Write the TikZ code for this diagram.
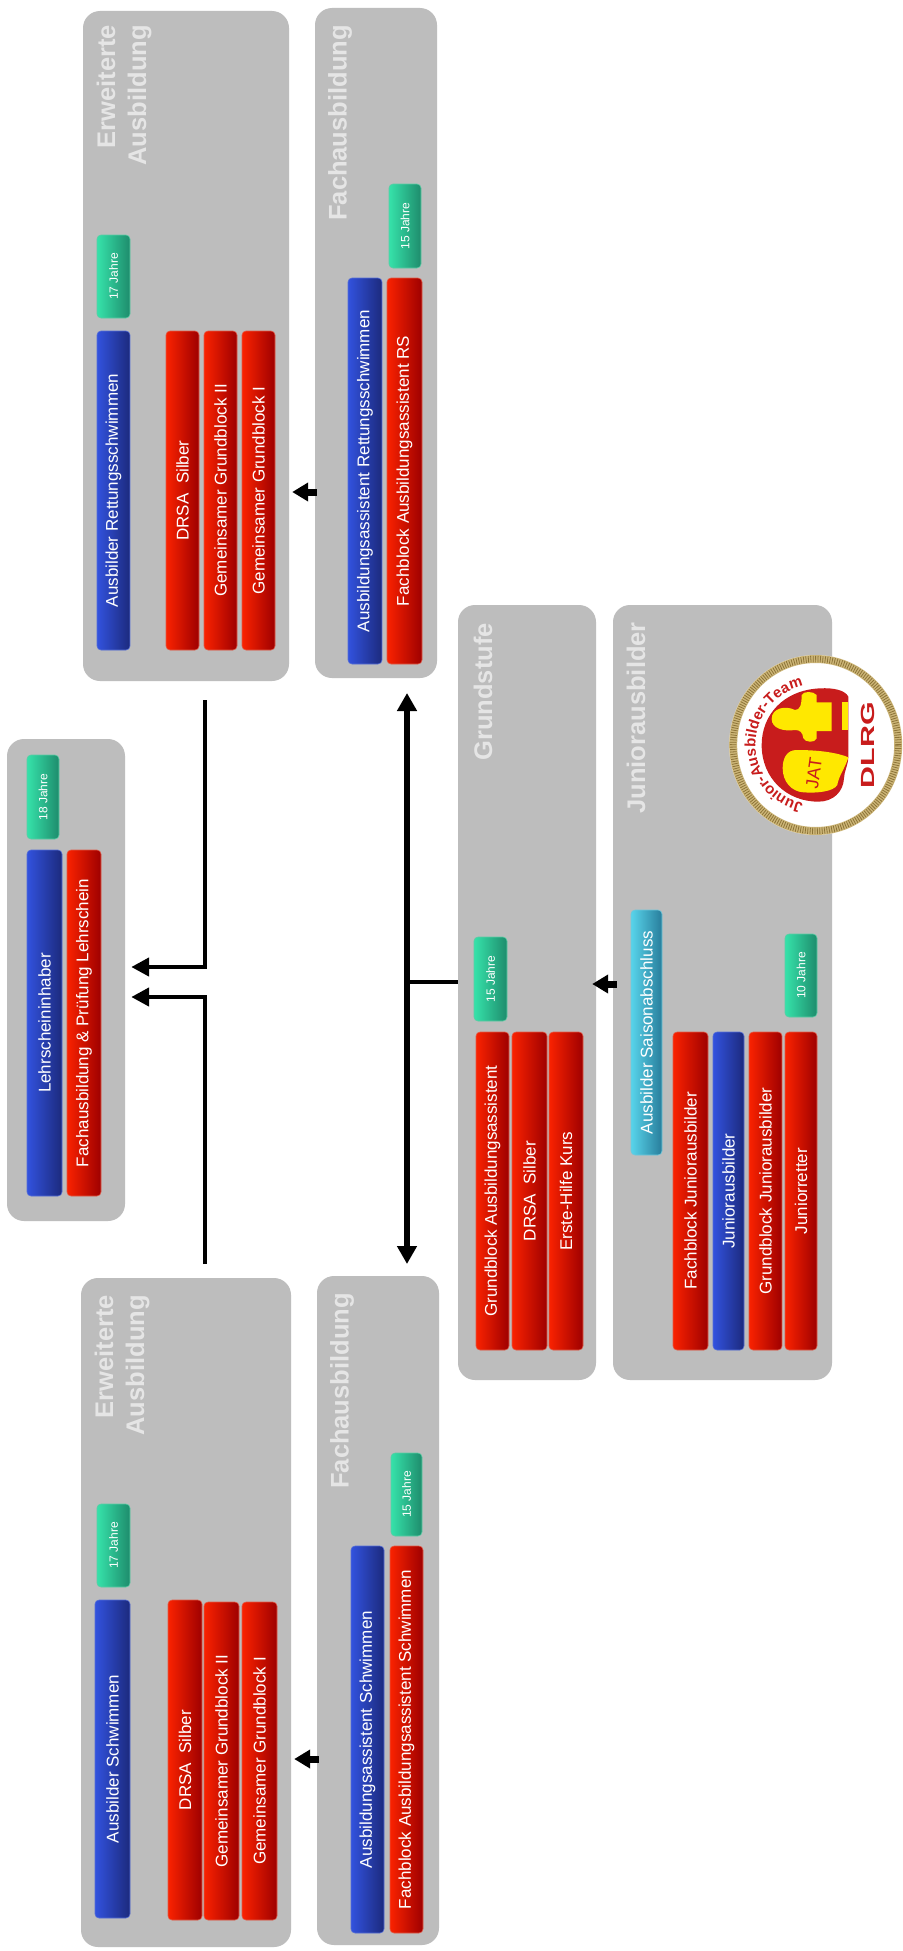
\documentclass[tikz,border=0pt]{standalone}
\usepackage{fontspec}
\usepackage{graphicx}
\setmainfont{Liberation Sans}
\usetikzlibrary{arrows.meta,decorations.text,calc}
\definecolor{grp}{RGB}{189,189,189}
\definecolor{lrd}{RGB}{200,28,28}
\definecolor{lyl}{RGB}{255,232,0}
\definecolor{redL}{RGB}{250,34,0}
\definecolor{redM}{RGB}{232,26,0}
\definecolor{redR}{RGB}{158,0,0}
\definecolor{redE}{RGB}{225,90,70}
\tikzset{
 x=1pt,y=-1pt,
 grpbox/.style={fill=grp,rounded corners=17pt,inner sep=0pt},
 base/.style={rounded corners=4pt,inner sep=0pt,text=white,line width=.6pt},
 redbox/.style={base,left color=redL,middle color=redM,right color=redR,draw=redE},
 bluebox/.style={base,left color={rgb,255:red,50;green,82;blue,222},right color={rgb,255:red,28;green,42;blue,125},draw={rgb,255:red,85;green,110;blue,215}},
 greenbox/.style={base,left color={rgb,255:red,54;green,226;blue,170},right color={rgb,255:red,30;green,140;blue,108},draw={rgb,255:red,90;green,205;blue,165}},
 cyanbox/.style={base,left color={rgb,255:red,88;green,212;blue,235},right color={rgb,255:red,40;green,125;blue,155},draw={rgb,255:red,110;green,200;blue,220}},
 title/.style={inner sep=0pt,text=white!90!black,rotate=90,font=\fontsize{25.5}{31}\selectfont\bfseries},
 bigarrow/.style={line width=7pt,-{Triangle[length=16pt,width=18pt]}},
 elbow/.style={line width=4.5pt,-{Triangle[length=18pt,width=18pt]}},
 dblarrow/.style={line width=6.5pt,{Triangle[length=18pt,width=19pt]}-{Triangle[length=18pt,width=19pt]}},
 branch/.style={line width=3.5pt}
}
\newcommand{\bx}[8]{\node[#2,minimum width={(#5-#3)*1pt},minimum height={(#6-#4)*1pt}] (#1) at ({(#3+#5)/2},{(#4+#6)/2}) {\rotatebox{90}{\fontsize{#7}{#7}\selectfont #8}};}
\newcommand{\gbx}[5]{\node[grpbox,minimum width={(#4-#2)*1pt},minimum height={(#5-#3)*1pt}] (#1) at ({(#2+#4)/2},{(#3+#5)/2}) {};}
\begin{document}
\begin{tikzpicture}
\useasboundingbox (0,0) rectangle (902,1951);
\fill[white] (0,0) rectangle (902,1951);
% groups
\gbx{eaA}{83}{11}{289}{681}
\gbx{faA}{315}{8}{437}{678}
\gbx{lehr}{7}{739}{125}{1221}
\gbx{grund}{458}{605}{596}{1380}
\gbx{junior}{613}{605}{832}{1380}
\gbx{eaB}{81}{1278}{291}{1947}
\gbx{faB}{317}{1276}{439}{1945}
% titles
\node[title,align=right,anchor=east] (tEaA) at (124,25) {Erweiterte\\Ausbildung};
\node[title,anchor=east] (tFaA) at (340,25) {Fachausbildung};
\node[title,anchor=east] (tGr) at (483,623) {Grundstufe};
\node[title,anchor=east] (tJu) at (636,622) {Juniorausbilder};
\node[title,align=right,anchor=east] (tEaB) at (122,1295) {Erweiterte\\Ausbildung};
\node[title,anchor=east] (tFaB) at (342,1293) {Fachausbildung};
% Erweiterte A
\bx{a1}{greenbox}{97}{235}{130}{318}{12}{17 Jahre}
\bx{a2}{bluebox}{97}{331}{130}{650}{17}{Ausbilder Rettungsschwimmen}
\bx{a3}{redbox}{166}{331}{199}{650}{17}{DRSA\ \ Silber}
\bx{a4}{redbox}{204}{331}{237}{650}{17}{Gemeinsamer Grundblock II}
\bx{a5}{redbox}{242}{331}{275}{650}{17}{Gemeinsamer Grundblock I}
% Fach A
\bx{b1}{greenbox}{389}{184}{421}{268}{12}{15 Jahre}
\bx{b2}{bluebox}{348}{278}{382}{664}{17}{Ausbildungsassistent Rettungsschwimmen}
\bx{b3}{redbox}{387}{278}{422}{664}{17}{Fachblock Ausbildungsassistent RS}
% Lehrschein
\bx{c1}{greenbox}{27}{755}{59}{839}{12}{18 Jahre}
\bx{c2}{bluebox}{27}{850}{62}{1196}{17}{Lehrscheininhaber}
\bx{c3}{redbox}{67}{850}{101}{1196}{17}{Fachausbildung \& Prüfung Lehrschein}
% Grundstufe
\bx{d1}{greenbox}{474}{937}{507}{1021}{12}{15 Jahre}
\bx{d2}{redbox}{476}{1032}{509}{1350}{17}{Grundblock Ausbildungsassistent}
\bx{d3}{redbox}{512}{1032}{547}{1350}{17}{DRSA\ \ Silber}
\bx{d4}{redbox}{549}{1032}{583}{1350}{17}{Erste-Hilfe Kurs}
% Junior
\bx{e0}{cyanbox}{631}{910}{662}{1155}{17}{Ausbilder Saisonabschluss}
\bx{e1}{greenbox}{785}{934}{817}{1017}{12}{10 Jahre}
\bx{e2}{redbox}{673}{1032}{708}{1350}{17}{Fachblock Juniorausbilder}
\bx{e3}{bluebox}{713}{1032}{744}{1350}{17}{Juniorausbilder}
\bx{e4}{redbox}{749}{1032}{782}{1350}{17}{Grundblock Juniorausbilder}
\bx{e5}{redbox}{785}{1032}{817}{1350}{17}{Juniorretter}
% Erweiterte B
\bx{f1}{greenbox}{97}{1504}{130}{1587}{12}{17 Jahre}
\bx{f2}{bluebox}{95}{1600}{130}{1918}{17}{Ausbilder Schwimmen}
\bx{f3}{redbox}{168}{1600}{202}{1920}{17}{DRSA\ \ Silber}
\bx{f4}{redbox}{204}{1602}{239}{1920}{17}{Gemeinsamer Grundblock II}
\bx{f5}{redbox}{242}{1602}{277}{1920}{17}{Gemeinsamer Grundblock I}
% Fach B
\bx{g1}{greenbox}{391}{1453}{422}{1536}{12}{15 Jahre}
\bx{g2}{bluebox}{351}{1546}{384}{1933}{17}{Ausbildungsassistent Schwimmen}
\bx{g3}{redbox}{390}{1546}{423}{1933}{17}{Fachblock Ausbildungsassistent Schwimmen}
% connector anchors
\coordinate (yA) at (0,492);
\coordinate (yB) at (0,1759);
\coordinate (yJ) at (0,984);
\coordinate (yU) at (0,967);
\coordinate (yL) at (0,997);
\coordinate (upStart) at (205,700);
\coordinate (loStart) at (205,1264);
\coordinate (dblTop) at (407,693);
\coordinate (dblBot) at (407,1264);
\coordinate (dblMid) at (407,982);
% connectors
\draw[bigarrow,shorten <=-2pt,shorten >=3pt] (faA.west |- yA) -- (eaA.east |- yA);
\draw[bigarrow,shorten <=-2pt,shorten >=3pt] (faB.west |- yB) -- (eaB.east |- yB);
\draw[bigarrow,shorten <=-4pt,shorten >=-4pt] (junior.west |- yJ) -- (grund.east |- yJ);
\draw[elbow,shorten >=6pt] (upStart) |- (lehr.east |- yU);
\draw[elbow,shorten >=6pt] (loStart) |- (lehr.east |- yL);
\draw[dblarrow] (dblTop) -- (dblBot);
\draw[branch] (grund.west |- dblMid) -- (dblMid);
% logo
\begin{scope}[shift={(720,645)},x=.33333pt,y=-.33333pt]
 \fill[white] (287,300) ellipse [x radius=86.5pt,y radius=90pt];
 \fill[lrd] (385,155) .. controls (375,135) and (340,128) .. (300,130) .. controls (190,135) and (125,210) .. (125,300) .. controls (125,400) and (200,470) .. (295,470) .. controls (340,470) and (370,440) .. (372,400) .. controls (372,380) and (385,360) .. (385,335) -- cycle;
 \fill[lyl] (245,150) .. controls (250,138) and (280,138) .. (290,150) -- (290,172) -- (335,172) -- (335,258) -- (290,258) -- (290,280) .. controls (285,295) and (255,292) .. (250,280) .. controls (248,262) and (240,255) .. (225,255) .. controls (190,260) and (155,250) .. (155,222) .. controls (155,190) and (195,180) .. (225,195) .. controls (240,195) and (245,180) .. (245,150) -- cycle;
 \fill[lyl] (365,172) rectangle (385,255);
 \fill[lyl] (385,337) .. controls (340,318) and (270,315) .. (230,315) .. controls (200,315) and (188,340) .. (188,370) .. controls (188,410) and (215,440) .. (250,442) .. controls (290,445) and (340,440) .. (352,420) .. controls (355,395) and (375,370) .. (385,337) -- cycle;
 \node[rotate=82,text=lrd,inner sep=0pt,font=\fontsize{18}{18}\selectfont] (jat) at (282,385) {JAT};
 \node[rotate=90,text=lrd,inner sep=0pt,font=\fontsize{19}{19}\selectfont\bfseries] (dlrg) at (445,300) {\scalebox{1.6}[1]{DLRG}};
 \draw[color={rgb,255:red,205;green,182;blue,120},line width=8pt] (287,300) ellipse [x radius=82.5pt,y radius=86pt];
 \draw[color={rgb,255:red,140;green,115;blue,55},line width=6.5pt,dash pattern=on .8pt off 1.6pt] (287,300) ellipse [x radius=82.5pt,y radius=86pt];
\end{scope}
\begin{scope}[shift={(815.5,745)},x=1pt,y=1pt]
 \path[decorate,decoration={text along path,text align=center,text={|\fontsize{15}{15}\selectfont\bfseries\color{lrd}|Junior-Ausbilder-Team}}] (257:60) arc[start angle=257,end angle=103,radius=60];
\end{scope}
\end{tikzpicture}
\end{document}
